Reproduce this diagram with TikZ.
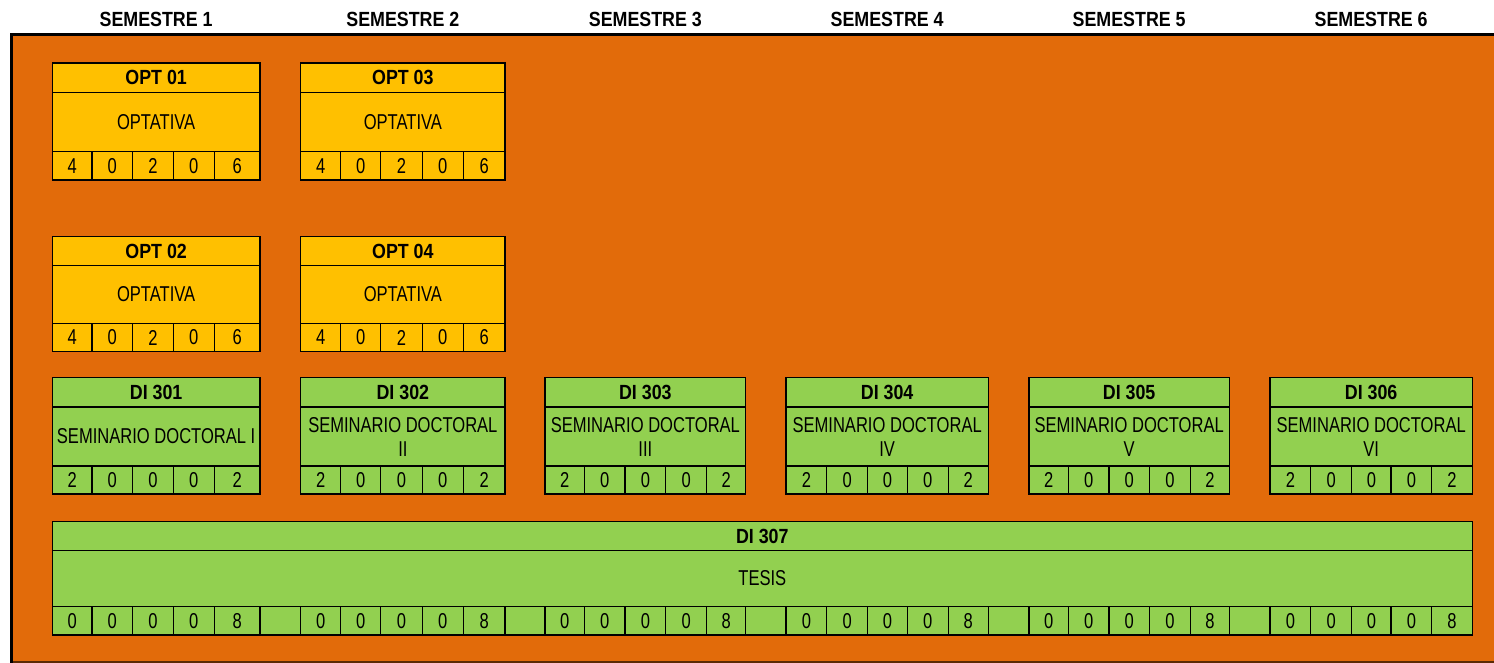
\documentclass[tikz,border=0pt]{standalone}
\usepackage{fontspec}
\newfontfamily\bodyfont{Liberation Sans}[FakeStretch=0.77]
\newfontfamily\headfont{Liberation Sans Bold}[FakeStretch=0.87]
\definecolor{sheetorange}{HTML}{E26B0A}
\definecolor{optyellow}{HTML}{FFC000}
\definecolor{coregreen}{HTML}{92D050}
\definecolor{edgebrown}{HTML}{5A2A04}

% column edges of the grid (six semesters, five credit cells + gap each)
\def\colx{{52.3,92,132.7,173.3,214.3,260,300.7,340.7,380.7,422.3,463.3,505,545,584.3,625,665.7,706.7,745.7,786,826.7,867.7,907.3,948.3,988.3,1029,1068.3,1109,1149.3,1190.7,1229.3,1270,1310.7,1351.7,1391,1431.7,1472.3}}
% row edges: top, title/body, body/credits, bottom for each band
\def\rowy{{63,92.5,151.5,180,236.5,265.5,323.5,351.5,377.5,407,466,494,521.5,550.5,606.5,635}}

\tikzset{
  cell/.style={draw=black, line width=1.2pt, inner sep=0pt, outer sep=0pt,
    anchor=north west, text=black},
  titlecell/.style={cell, font=\headfont\fontsize{20.5}{22}\selectfont},
  bodycell/.style={cell, align=center, font=\bodyfont\fontsize{21.5}{24}\selectfont},
  numcell/.style={cell, font=\bodyfont\fontsize{21.5}{24}\selectfont},
  semhead/.style={font=\headfont\fontsize{20.5}{22}\selectfont, anchor=base,
    inner sep=0pt, text=black},
}

% #1 name, #2 first column edge, #3 last column edge, #4 band, #5 fill, #6 code, #7 title
\newcommand\course[7]{%
  \pgfmathsetmacro\cxl{\colx[#2]}%
  \pgfmathsetmacro\cxr{\colx[#3]}%
  \pgfmathsetmacro\cya{\rowy[4*#4]}%
  \pgfmathsetmacro\cyb{\rowy[4*#4+1]}%
  \pgfmathsetmacro\cyc{\rowy[4*#4+2]}%
  \pgfmathsetmacro\cwid{\cxr-\cxl}%
  \pgfmathsetmacro\chtop{\cyb-\cya}%
  \pgfmathsetmacro\chmid{\cyc-\cyb}%
  \node[titlecell, fill=#5, minimum width=\cwid pt, minimum height=\chtop pt] (#1-t) at (\cxl,\cya) {#6};
  \node[bodycell, fill=#5, minimum width=\cwid pt, minimum height=\chmid pt] (#1-b) at (\cxl,\cyb) {#7};
}

% #1 name, #2 first column edge, #3 band, #4 fill, #5 credit list
\newcommand\credits[5]{%
  \pgfmathsetmacro\kyc{\rowy[4*#3+2]}%
  \pgfmathsetmacro\kyd{\rowy[4*#3+3]}%
  \pgfmathsetmacro\khgt{\kyd-\kyc}%
  \foreach \n [count=\j from 0] in {#5} {
    \pgfmathtruncatemacro\kia{#2+\j}
    \pgfmathtruncatemacro\kib{#2+\j+1}
    \pgfmathsetmacro\kxa{\colx[\kia]}
    \pgfmathsetmacro\kxb{\colx[\kib]}
    \pgfmathsetmacro\kwid{\kxb-\kxa}
    \node[numcell, fill=#4, minimum width=\kwid pt, minimum height=\khgt pt] (#1-n\j) at (\kxa,\kyc) {\n};
  }%
}

\begin{document}
\begin{tikzpicture}[x=1pt,y=-1pt]
  \useasboundingbox (0,0) rectangle (1494,663);

  % sheet background
  \fill[sheetorange] (12,35) rectangle (1494,662);
  \draw[edgebrown, line width=1.5pt] (12,662) -- (1494,662);
  \draw[black, line width=3.8pt] (11.5,663) -- (11.5,34.6) -- (1494,34.6);

  % semester headings
  \foreach \s in {0,...,5} {
    \pgfmathtruncatemacro\sia{6*\s}
    \pgfmathtruncatemacro\sib{6*\s+5}
    \pgfmathsetmacro\sxa{\colx[\sia]}
    \pgfmathsetmacro\sxb{\colx[\sib]}
    \pgfmathsetmacro\scx{(\sxa+\sxb)/2}
    \pgfmathtruncatemacro\semno{\s+1}
    \node[semhead] (sem\semno) at (\scx,26.5) {SEMESTRE \semno};
  }

  % electives
  \course{opt01}{0}{5}{0}{optyellow}{OPT 01}{OPTATIVA}
  \credits{opt01}{0}{0}{optyellow}{4,0,2,0,6}
  \course{opt03}{6}{11}{0}{optyellow}{OPT 03}{OPTATIVA}
  \credits{opt03}{6}{0}{optyellow}{4,0,2,0,6}
  \course{opt02}{0}{5}{1}{optyellow}{OPT 02}{OPTATIVA}
  \credits{opt02}{0}{1}{optyellow}{4,0,2,0,6}
  \course{opt04}{6}{11}{1}{optyellow}{OPT 04}{OPTATIVA}
  \credits{opt04}{6}{1}{optyellow}{4,0,2,0,6}

  % doctoral seminars
  \course{di301}{0}{5}{2}{coregreen}{DI 301}{SEMINARIO DOCTORAL I}
  \credits{di301}{0}{2}{coregreen}{2,0,0,0,2}
  \course{di302}{6}{11}{2}{coregreen}{DI 302}{SEMINARIO DOCTORAL\\II}
  \credits{di302}{6}{2}{coregreen}{2,0,0,0,2}
  \course{di303}{12}{17}{2}{coregreen}{DI 303}{SEMINARIO DOCTORAL\\III}
  \credits{di303}{12}{2}{coregreen}{2,0,0,0,2}
  \course{di304}{18}{23}{2}{coregreen}{DI 304}{SEMINARIO DOCTORAL\\IV}
  \credits{di304}{18}{2}{coregreen}{2,0,0,0,2}
  \course{di305}{24}{29}{2}{coregreen}{DI 305}{SEMINARIO DOCTORAL\\V}
  \credits{di305}{24}{2}{coregreen}{2,0,0,0,2}
  \course{di306}{30}{35}{2}{coregreen}{DI 306}{SEMINARIO DOCTORAL\\VI}
  \credits{di306}{30}{2}{coregreen}{2,0,0,0,2}

  % thesis across all semesters
  \course{di307}{0}{35}{3}{coregreen}{DI 307}{TESIS}
  \credits{di307}{0}{3}{coregreen}{0,0,0,0,8,{},0,0,0,0,8,{},0,0,0,0,8,{},0,0,0,0,8,{},0,0,0,0,8,{},0,0,0,0,8}
\end{tikzpicture}
\end{document}
